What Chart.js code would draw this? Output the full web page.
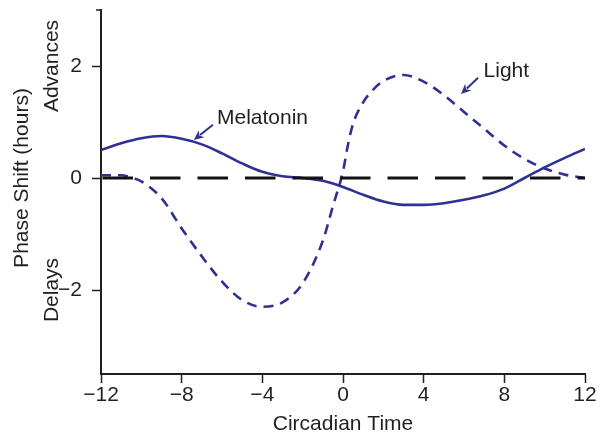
<!DOCTYPE html>
<html><head><meta charset="utf-8">
<script src="https://cdn.jsdelivr.net/npm/chart.js@4/dist/chart.umd.min.js"></script>
<style>html,body{margin:0;padding:0;background:#fff}#wrap{width:602px;height:439px}</style>
</head><body><div id="wrap"><canvas id="c" width="602" height="439"></canvas></div>
<script>
// ---- data ----
const melatoninTime  = [-12,-11,-10,-9,-8,-7,-6,-5,-4,-3,-2,-1,0,1,2,3,4,5,6,7,8,9,10,11,12];
const melatoninShift = [0.5,0.62,0.71,0.75,0.7,0.6,0.44,0.26,0.11,0.03,0.0,-0.05,-0.16,-0.3,-0.42,-0.48,-0.48,-0.45,-0.39,-0.31,-0.19,0.0,0.19,0.36,0.52];
const lightTime  = [-12,-11,-10.5,-10,-9,-8,-7,-6,-5,-4,-3,-2,-1,-0.5,0,0.25,0.5,1,1.5,2,3,4,5,6,7,8,9,10,11,12];
const lightShift = [0.05,0.05,0.01,-0.06,-0.36,-0.9,-1.4,-1.85,-2.18,-2.3,-2.22,-1.88,-1.12,-0.5,0.12,0.6,0.97,1.35,1.58,1.73,1.84,1.72,1.48,1.18,0.88,0.58,0.34,0.17,0.06,0.0];
const baselineTime  = [-12, 12];
const baselineShift = [0, 0];
const xTickValues = [-12,-8,-4,0,4,8,12];
const yTickValues = [-2,0,2];
const seriesNames = ['Melatonin','Light'];

const NAVY = '#2e3192', INK = '#231f20';
const FONT = '"Liberation Sans", Arial, Helvetica, sans-serif';
const FS = 21;
const fmt = v => (v < 0 ? '\u2212' + Math.abs(v) : String(v));
const pts = (xs, ys) => xs.map((v, i) => ({x: v, y: ys[i]}));

// annotation anchors in data units
const textLabels = [
  {text: seriesNames[0], x: -6.25, y: 1.06},
  {text: seriesNames[1], x: 6.97, y: 1.91}
];
const arrows = [
  {x1: -6.45, y1: 0.95, x2: -7.4, y2: 0.68},
  {x1: 6.7, y1: 1.79, x2: 5.85, y2: 1.5}
];
const sideLabels = [{text: 'Advances', y: 2}, {text: 'Delays', y: -2}];
const yTitle = {text: 'Phase Shift (hours)', y: 0};

const annot = {
  id: 'annot',
  afterDraw(chart) {
    const {ctx, scales: {x, y}} = chart;
    ctx.save();
    ctx.fillStyle = INK;
    ctx.font = FS + 'px ' + FONT;
    ctx.textAlign = 'left'; ctx.textBaseline = 'middle';
    textLabels.forEach(l => ctx.fillText(l.text, x.getPixelForValue(l.x), y.getPixelForValue(l.y)));
    // arrows
    ctx.strokeStyle = NAVY; ctx.fillStyle = NAVY; ctx.lineWidth = 2;
    arrows.forEach(a => {
      const x1 = x.getPixelForValue(a.x1), y1 = y.getPixelForValue(a.y1);
      const x2 = x.getPixelForValue(a.x2), y2 = y.getPixelForValue(a.y2);
      const ang = Math.atan2(y2 - y1, x2 - x1);
      const L = 10, W = 4.5;
      const bx = x2 - L * Math.cos(ang), by = y2 - L * Math.sin(ang);
      ctx.beginPath(); ctx.moveTo(x1, y1); ctx.lineTo(bx + 2*Math.cos(ang), by + 2*Math.sin(ang)); ctx.stroke();
      ctx.beginPath();
      ctx.moveTo(x2, y2);
      ctx.lineTo(bx - W * Math.sin(ang), by + W * Math.cos(ang));
      ctx.lineTo(bx + 3*Math.cos(ang), by + 3*Math.sin(ang));
      ctx.lineTo(bx + W * Math.sin(ang), by - W * Math.cos(ang));
      ctx.closePath(); ctx.fill();
    });
    // rotated side labels and axis title
    ctx.fillStyle = INK;
    ctx.textAlign = 'center'; ctx.textBaseline = 'middle';
    const rot = (t, px, py) => { ctx.save(); ctx.translate(px, py); ctx.rotate(-Math.PI / 2); ctx.fillText(t, 0, 0); ctx.restore(); };
    sideLabels.forEach(s => rot(s.text, 52, y.getPixelForValue(s.y)));
    rot(yTitle.text, 22, y.getPixelForValue(yTitle.y));
    // short stub tick at axis top
    ctx.strokeStyle = INK; ctx.lineWidth = 1.5;
    const ty = y.getPixelForValue(y.max);
    ctx.beginPath(); ctx.moveTo(x.left - 5, ty); ctx.lineTo(x.left, ty); ctx.stroke();
    ctx.restore();
  }
};

new Chart(document.getElementById('c'), {
  type: 'line',
  data: {
    datasets: [
      {label: 'zero', data: pts(baselineTime, baselineShift), borderColor: '#111', borderWidth: 3,
       borderDash: [30.5, 17], borderDashOffset: -1.5, pointRadius: 0, tension: 0},
      {label: seriesNames[1], data: pts(lightTime, lightShift), borderColor: NAVY, borderWidth: 2.6,
       borderDash: [10, 7], pointRadius: 0, cubicInterpolationMode: 'monotone'},
      {label: seriesNames[0], data: pts(melatoninTime, melatoninShift), borderColor: NAVY, borderWidth: 2.6,
       pointRadius: 0, cubicInterpolationMode: 'monotone'}
    ]
  },
  options: {
    responsive: false, animation: false, devicePixelRatio: 1,
    layout: {padding: {top: 10, right: 17, bottom: 0, left: 0}},
    plugins: {legend: {display: false}, tooltip: {enabled: false}},
    scales: {
      x: {
        type: 'linear', min: -12, max: 12,
        afterBuildTicks: s => { s.ticks = xTickValues.map(v => ({value: v})); },
        afterFit: s => { s.height = 65; s.paddingLeft = 0; s.paddingRight = 0; },
        ticks: {callback: v => fmt(v), color: INK, font: {size: FS, family: FONT}, padding: 0, maxRotation: 0, autoSkip: false},
        grid: {display: true, drawOnChartArea: false, drawTicks: true, tickLength: 9, tickColor: INK, tickWidth: 1.5},
        border: {display: true, color: INK, width: 2},
        title: {display: true, text: 'Circadian Time', color: INK, font: {size: FS, family: FONT}, padding: {top: 0, bottom: 2}}
      },
      y: {
        type: 'linear', min: -3.5, max: 3,
        afterBuildTicks: s => { s.ticks = yTickValues.map(v => ({value: v})); },
        afterFit: s => { s.width = 101; s.paddingTop = 0; s.paddingBottom = 0; },
        ticks: {callback: v => fmt(v), color: INK, font: {size: FS, family: FONT}, padding: 10},
        grid: {display: true, drawOnChartArea: false, drawTicks: true, tickLength: 9, tickColor: INK, tickWidth: 1.5},
        border: {display: true, color: INK, width: 2},
        title: {display: false}
      }
    }
  },
  plugins: [annot]
});
</script>
</body></html>
